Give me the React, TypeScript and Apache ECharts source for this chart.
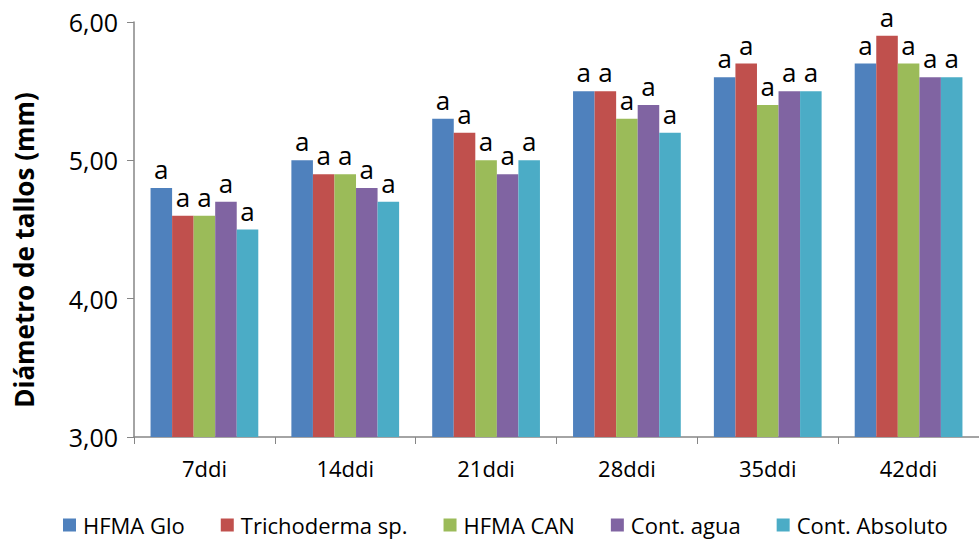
import React, { useEffect, useRef } from "react";
import * as echarts from "echarts";

const categories = ["7ddi", "14ddi", "21ddi", "28ddi", "35ddi", "42ddi"];
const seriesNames = ["HFMA Glo", "Trichoderma sp.", "HFMA CAN", "Cont. agua", "Cont. Absoluto"];
const hfmaGlo = [4.8, 5.0, 5.3, 5.5, 5.6, 5.7];
const trichoderma = [4.6, 4.9, 5.2, 5.5, 5.7, 5.9];
const hfmaCan = [4.6, 4.9, 5.0, 5.3, 5.4, 5.7];
const contAgua = [4.7, 4.8, 4.9, 5.4, 5.5, 5.6];
const contAbsoluto = [4.5, 4.7, 5.0, 5.2, 5.5, 5.6];
const significance = ["a", "a", "a", "a", "a"];
const colors = ["#4F81BD", "#C0504D", "#9BBB59", "#8064A2", "#4BACC6"];

const FONT = "'Open Sans', 'Noto Sans', sans-serif";

export default function App() {
  const ref = useRef<HTMLDivElement>(null);
  useEffect(() => {
    if (!ref.current) return;
    const chart = echarts.init(ref.current, null, { renderer: "svg" });
    const data = [hfmaGlo, trichoderma, hfmaCan, contAgua, contAbsoluto];
    chart.setOption({
      animation: false,
      backgroundColor: "#ffffff",
      color: colors,
      textStyle: { fontFamily: FONT },
      grid: { left: 134, right: -7, top: 22, bottom: 108, containLabel: false },
      legend: {
        bottom: 4,
        left: 58,
        itemWidth: 13,
        itemHeight: 13,
        itemGap: 36,
        icon: "rect",
        textStyle: { fontSize: 22, color: "#000", fontFamily: FONT, padding: [0, 0, 0, 2] },
        data: seriesNames,
      },
      xAxis: {
        type: "category",
        data: categories,
        axisLine: { lineStyle: { color: "#868686", width: 1.5 } },
        axisTick: { show: true, length: 7, lineStyle: { color: "#868686" } },
        axisLabel: { fontSize: 22, color: "#000", margin: 20, fontFamily: FONT },
      },
      yAxis: {
        type: "value",
        min: 3,
        max: 6,
        interval: 1,
        splitLine: { show: false },
        axisLine: { show: true, lineStyle: { color: "#868686", width: 1.5 } },
        axisTick: { show: true, length: 7, inside: false, lineStyle: { color: "#868686" } },
        axisLabel: {
          fontSize: 25,
          color: "#000",
          margin: 16,
          fontFamily: FONT,
          formatter: (v: number) => v.toFixed(2).replace(".", ","),
        },
      },
      graphic: [
        {
          type: "text",
          x: 24,
          y: 250,
          rotation: Math.PI / 2,
          style: {
            text: "Diámetro de tallos (mm)",
            fontSize: 26,
            fontWeight: "bold",
            fontFamily: FONT,
            fill: "#000",
            textAlign: "center",
            textVerticalAlign: "middle",
          },
        },
      ],
      series: seriesNames.map((name, i) => ({
        name,
        type: "bar",
        data: data[i],
        barGap: "0%",
        barCategoryGap: "23.5%",
        itemStyle: { color: colors[i] },
        label: {
          show: true,
          position: "top",
          distance: 6,
          formatter: () => significance[i],
          fontSize: 26,
          color: "#000",
          fontFamily: FONT,
        },
      })),
    });
    return () => chart.dispose();
  }, []);
  return (
    <div
      ref={ref}
      style={{ position: "fixed", left: 0, top: 0, width: 979, height: 545 }}
    />
  );
}
